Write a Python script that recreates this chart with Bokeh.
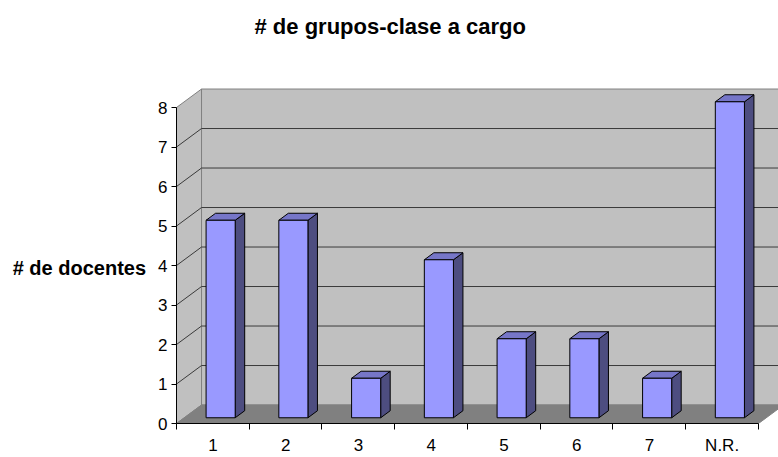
from bokeh.plotting import figure
from bokeh.models import FixedTicker, LinearAxis, Range1d
from bokeh.embed import file_html
from bokeh.resources import INLINE

# ---- data ----
categories = ["1", "2", "3", "4", "5", "6", "7", "N.R."]
values = [5, 5, 1, 4, 2, 2, 1, 8]
y_ticks = [0, 1, 2, 3, 4, 5, 6, 7, 8]
title_text = "# de grupos-clase a cargo"
y_label_text = "# de docentes"

# ---- geometry / style constants ----
n = len(categories)
ymax = y_ticks[-1]
DX = 0.344      # depth offset in category units
DY = 0.468      # depth offset in value units
BAR_HALF = 0.2  # half bar width (category units)
Z1, Z2 = 0.31, 0.69  # bar depth (front / back), fraction of full depth
FONT = "Liberation Sans"

WALL = "#C0C0C0"
FLOOR = "#808080"
EDGE = "#808080"
GRID = "#3a3a3a"
FRONT = "#9999FF"
TOP = "#7676C8"
SIDE = "#4D4D80"

X_END = 8.275
Y_END = 8.532


def proj(x, y, z):
    return x + z * DX, y + z * DY


def poly(pts):
    xs, ys = zip(*[proj(*pt) for pt in pts])
    return list(xs), list(ys)


p = figure(width=778, height=457, output_backend="svg", toolbar_location=None,
           x_range=Range1d(0, X_END), y_range=Range1d(0, Y_END),
           min_border_left=176, min_border_right=0, min_border_top=86,
           min_border_bottom=34, x_axis_type=None, y_axis_type=None)
p.outline_line_color = None
p.background_fill_color = "white"
p.border_fill_color = "white"

# title (empty trailing lines lift it towards the top of the page)
p.title.text = title_text + "\n\n"
p.title.align = "left"
p.title.offset = 78
p.title.standoff = -9
p.title.vertical_align = "top"
p.title.text_font = FONT
p.title.text_font_size = "22px"
p.title.text_font_style = "bold"
p.title.text_color = "black"

# walls and floor
walls = [
    (poly([(0, 0, 1), (n, 0, 1), (n, ymax, 1), (0, ymax, 1)]), WALL),
    (poly([(0, 0, 0), (0, 0, 1), (0, ymax, 1), (0, ymax, 0)]), WALL),
    (poly([(0, 0, 0), (n, 0, 0), (n, 0, 1), (0, 0, 1)]), FLOOR),
]
p.patches([w[0][0] for w in walls], [w[0][1] for w in walls],
          fill_color=[w[1] for w in walls], line_color=EDGE, line_width=1)

# grid lines on the walls
gx, gy = [], []
for t in y_ticks[1:-1]:
    xs, ys = poly([(0, t, 0), (0, t, 1), (n, t, 1)])
    gx.append(xs)
    gy.append(ys)
p.multi_line(gx, gy, line_color=GRID, line_width=1)

# bars
fx, fy, tx, ty, sx, sy = [], [], [], [], [], []
for i, v in enumerate(values):
    c = i + 0.5
    x0, x1 = c - BAR_HALF, c + BAR_HALF
    a, b = poly([(x0, 0, Z1), (x1, 0, Z1), (x1, v, Z1), (x0, v, Z1)])
    fx.append(a); fy.append(b)
    a, b = poly([(x0, v, Z1), (x1, v, Z1), (x1, v, Z2), (x0, v, Z2)])
    tx.append(a); ty.append(b)
    a, b = poly([(x1, 0, Z1), (x1, 0, Z2), (x1, v, Z2), (x1, v, Z1)])
    sx.append(a); sy.append(b)
p.patches(sx, sy, fill_color=SIDE, line_color="black", line_width=1)
p.patches(tx, ty, fill_color=TOP, line_color="black", line_width=1)
p.patches(fx, fy, fill_color=FRONT, line_color="black", line_width=1)

# axes
yaxis = LinearAxis(ticker=FixedTicker(ticks=y_ticks, minor_ticks=[]), bounds=(0, ymax))
yaxis.major_tick_out = 5
yaxis.major_tick_in = 0
yaxis.minor_tick_out = 0
yaxis.minor_tick_in = 0
yaxis.axis_line_color = "black"
yaxis.major_tick_line_color = "black"
yaxis.major_label_text_font = FONT
yaxis.major_label_text_font_size = "17px"
yaxis.major_label_text_color = "black"
yaxis.major_label_standoff = 4
yaxis.axis_label = "\n" + y_label_text
yaxis.axis_label_orientation = "horizontal"
yaxis.axis_label_text_font = FONT
yaxis.axis_label_text_font_size = "20px"
yaxis.axis_label_text_font_style = "bold"
yaxis.axis_label_text_color = "black"
yaxis.axis_label_standoff = 9
p.add_layout(yaxis, "left")

centers = [i + 0.5 for i in range(n)]
xaxis = LinearAxis(ticker=FixedTicker(ticks=centers, minor_ticks=list(range(n + 1))),
                   bounds=(0, n))
xaxis.major_tick_out = 0
xaxis.major_tick_in = 0
xaxis.minor_tick_out = 6
xaxis.minor_tick_in = 0
xaxis.minor_tick_line_color = "black"
xaxis.axis_line_color = "black"
xaxis.major_label_overrides = {c: lab for c, lab in zip(centers, categories)}
xaxis.major_label_text_font = FONT
xaxis.major_label_text_font_size = "17px"
xaxis.major_label_text_color = "black"
xaxis.major_label_standoff = 6
p.add_layout(xaxis, "below")

open("out.html", "w").write(file_html(p, INLINE))
